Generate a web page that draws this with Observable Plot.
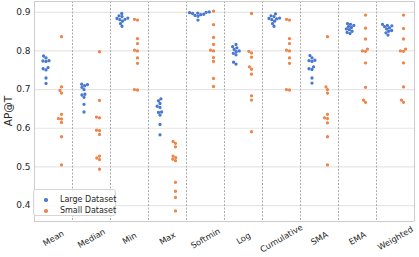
<!DOCTYPE html>
<html>
<head>
<meta charset="utf-8">
<script src="https://cdn.jsdelivr.net/npm/d3@7"></script>
<script src="https://cdn.jsdelivr.net/npm/@observablehq/plot@0.6"></script>
<style>
  body { margin: 0; background: #fff; font-family: "DejaVu Sans", sans-serif; }
  #wrap { position: relative; width: 419px; height: 257px; overflow: hidden; }
  #ylabel { position: absolute; left: 8px; top: 111px; transform: translate(-50%, -50%) rotate(-90deg);
            font-size: 10.5px; color: #262626; white-space: nowrap; }
  #legend { position: absolute; left: 33px; top: 189px; width: 83px; height: 27px; box-sizing: border-box;
            border: 1px solid #d6d6d6; border-radius: 3px; background: rgba(255,255,255,0.85);
            font-size: 8px; color: #262626; }
  .dot { position: absolute; width: 3.6px; height: 3.6px; border-radius: 50%; }
  .lab { position: absolute; white-space: nowrap; line-height: 1; }
</style>
</head>
<body>
<div id="wrap">
  <div id="chart"></div>
  <div id="ylabel">AP@T</div>
  <div id="legend">
    <span class="dot" style="left:10px; top:8px; background:#4878d0"></span>
    <span class="lab" style="left:26px; top:6px">Large Dataset</span>
    <span class="dot" style="left:10px; top:19px; background:#ee854a"></span>
    <span class="lab" style="left:26px; top:17px">Small Dataset</span>
  </div>
</div>
<script>
const categories = ["Mean", "Median", "Min", "Max", "Softmin", "Log", "Cumulative", "SMA", "EMA", "Weighted"];

const largeDataset = [
  [0.787, 0.782, 0.775, 0.774, 0.773, 0.757, 0.754, 0.751, 0.730, 0.716],
  [0.714, 0.713, 0.710, 0.706, 0.700, 0.688, 0.686, 0.680, 0.662, 0.642],
  [0.897, 0.891, 0.889, 0.885, 0.884, 0.882, 0.881, 0.877, 0.871, 0.864],
  [0.676, 0.671, 0.664, 0.657, 0.654, 0.642, 0.641, 0.634, 0.610, 0.583],
  [0.901, 0.900, 0.899, 0.898, 0.897, 0.895, 0.894, 0.892, 0.890, 0.880],
  [0.817, 0.811, 0.808, 0.804, 0.800, 0.798, 0.794, 0.790, 0.771, 0.766],
  [0.896, 0.891, 0.889, 0.885, 0.884, 0.883, 0.881, 0.877, 0.871, 0.864],
  [0.788, 0.782, 0.776, 0.775, 0.773, 0.759, 0.754, 0.752, 0.730, 0.717],
  [0.871, 0.869, 0.866, 0.863, 0.861, 0.857, 0.855, 0.851, 0.848, 0.845],
  [0.869, 0.866, 0.865, 0.863, 0.860, 0.857, 0.853, 0.851, 0.847, 0.841]
];

const smallDataset = [
  [0.837, 0.707, 0.698, 0.691, 0.636, 0.625, 0.624, 0.615, 0.578, 0.505],
  [0.798, 0.672, 0.629, 0.627, 0.595, 0.594, 0.584, 0.528, 0.523, 0.519, 0.494],
  [0.882, 0.880, 0.832, 0.819, 0.802, 0.800, 0.782, 0.768, 0.700, 0.699],
  [0.566, 0.561, 0.552, 0.528, 0.524, 0.520, 0.516, 0.460, 0.437, 0.421, 0.386],
  [0.903, 0.868, 0.835, 0.817, 0.802, 0.800, 0.783, 0.773, 0.729, 0.708],
  [0.897, 0.799, 0.795, 0.784, 0.759, 0.753, 0.740, 0.684, 0.673, 0.591],
  [0.882, 0.880, 0.832, 0.819, 0.802, 0.800, 0.782, 0.768, 0.700, 0.699],
  [0.837, 0.707, 0.700, 0.691, 0.636, 0.627, 0.625, 0.614, 0.578, 0.505],
  [0.893, 0.859, 0.831, 0.805, 0.800, 0.799, 0.769, 0.706, 0.673, 0.667],
  [0.893, 0.858, 0.831, 0.805, 0.800, 0.799, 0.769, 0.707, 0.673, 0.667]
];

const yTicks = [0.4, 0.5, 0.6, 0.7, 0.8, 0.9];
const yDomain = [0.3587, 0.928];

const toRows = (series) => categories.flatMap((c, i) =>
  series[i].map(v => ({category: c, value: v}))).sort((a, b) => a.value - b.value);
const largeRows = toRows(largeDataset);
const smallRows = toRows(smallDataset);

const chart = Plot.plot({
  width: 419,
  height: 257,
  marginLeft: 30,
  marginRight: 2,
  marginTop: 1,
  marginBottom: 36,
  style: {fontFamily: "DejaVu Sans", fontSize: "9px", color: "#262626", background: "white"},
  fx: {domain: categories, padding: 0, axis: null, label: null},
  x: {domain: [0, 1], axis: null},
  y: {domain: yDomain, axis: null},
  marks: [
    Plot.gridY(yTicks, {stroke: "#e6e6e6", strokeOpacity: 1, strokeWidth: 1.2}),
    Plot.ruleX(categories.slice(1), {fx: d => d, x: 0, stroke: "#ababab", strokeDasharray: "2,1.5", strokeWidth: 1}),
    Plot.ruleX(categories.slice(0, 1), {fx: d => d, x: 0, stroke: "#cccccc"}),
    Plot.ruleX(categories.slice(-1), {fx: d => d, x: 1, stroke: "#cccccc"}),
    Plot.ruleY(yDomain, {stroke: "#cccccc"}),
    Plot.axisY(yTicks, {tickSize: 0, tickPadding: 4, tickFormat: d => d.toFixed(1), fontSize: 9, fill: "#262626", label: null}),
    Plot.dot(largeRows, Plot.dodgeX("middle", {fx: "category", y: "value", r: 1.05, padding: 0, fill: "#4878d0", stroke: "#4878d0", strokeWidth: 1.2, dx: -7.5})),
    Plot.dot(smallRows, Plot.dodgeX("middle", {fx: "category", y: "value", r: 1.05, padding: 0, fill: "#ee854a", stroke: "#ee854a", strokeWidth: 1.2, dx: 8})),
    Plot.text(categories, {fx: d => d, text: d => d, frameAnchor: "bottom", dy: 17, rotate: -30,
      textAnchor: "middle", lineAnchor: "middle", fontSize: 8.3, fill: "#262626"})
  ]
});
document.getElementById("chart").appendChild(chart);
</script>
</body>
</html>
